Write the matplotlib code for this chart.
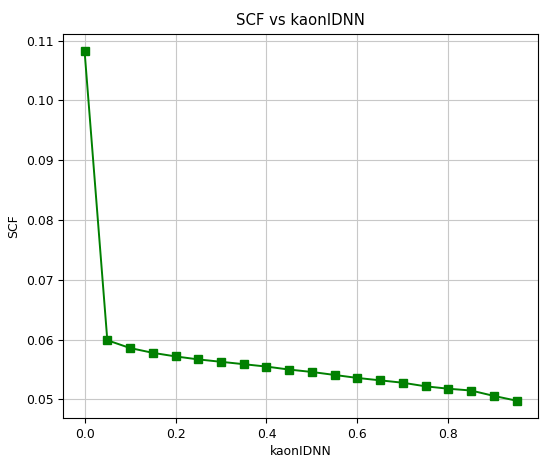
import matplotlib
matplotlib.use("Agg")
import matplotlib.pyplot as plt

kaon_idnn = [0.0, 0.05, 0.1, 0.15, 0.2, 0.25, 0.3, 0.35, 0.4, 0.45,
             0.5, 0.55, 0.6, 0.65, 0.7, 0.75, 0.8, 0.85, 0.9, 0.95]
scf = [0.1082, 0.0599, 0.0586, 0.0578, 0.0572, 0.0567, 0.0563, 0.0559, 0.0555, 0.0550,
       0.0546, 0.0541, 0.0536, 0.0532, 0.0528, 0.0522, 0.0518, 0.0515, 0.0506, 0.0498]

plt.rcParams['font.size'] = 8.9
fig = plt.figure(figsize=(5.43, 4.57), dpi=100)
ax = fig.add_axes([0.116, 0.085, 0.875, 0.841])
ax.plot(kaon_idnn, scf, 's-', color='green', markersize=5.5, linewidth=1.4)
ax.set_xlabel("kaonIDNN", labelpad=3)
ax.set_ylabel("SCF")
ax.set_title("SCF vs kaonIDNN", fontsize=10.7)
ax.grid(True, color='#c8c8c8')
fig.savefig("out.png", dpi=100)
